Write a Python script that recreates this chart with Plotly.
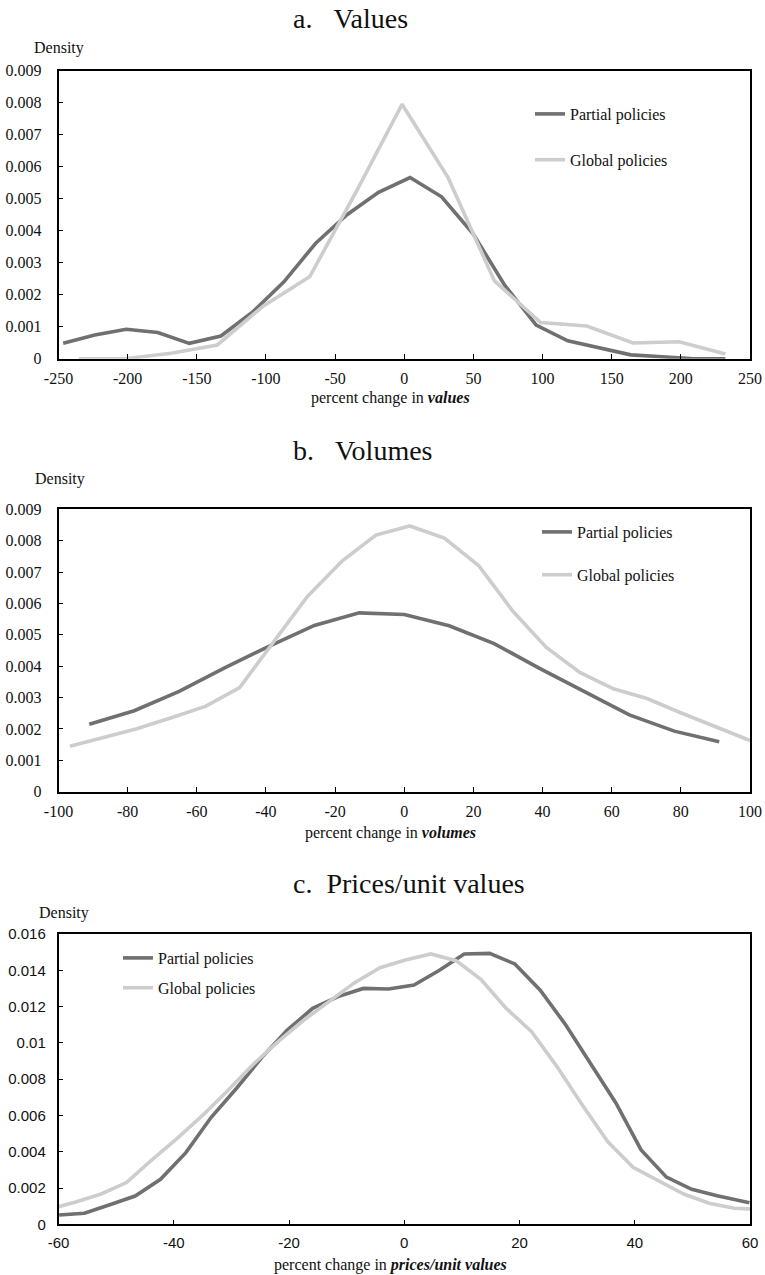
import plotly.graph_objects as go

# ---------------- data ----------------
a_partial_x = [-246.6, -223.8, -201.0, -178.2, -155.4, -132.6, -109.8, -87.0, -64.2, -41.4, -18.6,
               4.2, 27.0, 49.8, 72.6, 95.4, 118.2, 141.0, 163.8, 186.6, 209.4, 232.2]
a_partial_y = [0.00048, 0.00074, 0.00092, 0.00082, 0.00048, 0.00071, 0.00145, 0.0024, 0.0036, 0.0045, 0.0052,
               0.00566, 0.00506, 0.0039, 0.0023, 0.00105, 0.00056, 0.00033, 0.00012, 0.00006, 0.0, 0.0]
a_global_x = [-235.4, -202.0, -168.6, -135.2, -101.8, -68.4, -35.0, -1.6, 31.8, 65.2, 98.6, 132.0,
              165.4, 198.8, 232.2]
a_global_y = [0.0, 0.0, 0.00017, 0.00043, 0.00165, 0.00256, 0.0052, 0.00795, 0.00565, 0.00243, 0.00113,
              0.00102, 0.00049, 0.00053, 0.00015]

b_partial_x = [-91.1, -78.1, -65.1, -52.1, -39.0, -26.0, -13.0, 0.0, 13.0, 26.0, 39.0, 52.1, 65.1, 78.1, 91.1]
b_partial_y = [0.00215, 0.00258, 0.0032, 0.00394, 0.00464, 0.0053, 0.0057, 0.00565, 0.00529, 0.00472,
               0.00394, 0.0032, 0.00245, 0.00193, 0.00159]
b_global_x = [-96.7, -87.2, -77.6, -67.6, -57.5, -47.6, -37.8, -28.0, -17.9, -8.2, 1.6, 11.6, 21.5, 31.5,
              41.1, 50.8, 60.5, 70.2, 80.3, 90.0, 100.0]
b_global_y = [0.00145, 0.00171, 0.0020, 0.00235, 0.00272, 0.00332, 0.00475, 0.00622, 0.00736, 0.00818,
              0.00847, 0.00808, 0.00721, 0.00574, 0.0046, 0.0038, 0.00328, 0.00297, 0.0025, 0.00208, 0.00163]

c_partial_x = [-59.9, -55.5, -51.1, -46.7, -42.3, -37.9, -33.5, -29.1, -24.7, -20.3, -15.9, -11.5, -7.1,
               -2.7, 1.7, 6.1, 10.4, 14.8, 19.2, 23.6, 28.0, 32.3, 36.7, 41.1, 45.5, 49.9, 54.3, 59.9]
c_partial_y = [0.00051, 0.00061, 0.00108, 0.00156, 0.00248, 0.00395, 0.0059, 0.0075, 0.0092, 0.0107, 0.0119,
               0.01255, 0.013, 0.01297, 0.01319, 0.0140, 0.0149, 0.01493, 0.01435, 0.0129, 0.011, 0.0089,
               0.0067, 0.0041, 0.0026, 0.00193, 0.00157, 0.00119]
c_global_x = [-60.0, -57.0, -52.6, -48.2, -43.8, -39.4, -35.0, -30.6, -26.2, -21.8, -17.4, -13.0, -8.6,
              -4.2, 0.2, 4.6, 9.0, 13.3, 17.7, 22.1, 26.5, 30.9, 35.3, 39.7, 44.1, 48.5, 52.9, 57.3, 60.0]
c_global_y = [0.00097, 0.00123, 0.00167, 0.0023, 0.00355, 0.00474, 0.006, 0.00737, 0.00882, 0.0101,
              0.01126, 0.01227, 0.01332, 0.01414, 0.01457, 0.0149, 0.01453, 0.0135, 0.0119, 0.01062,
              0.00869, 0.00658, 0.00456, 0.00314, 0.00239, 0.00167, 0.00116, 0.00088, 0.00085]

series_names = ["Partial policies", "Global policies"]
panel_titles = ["a.\u00a0\u00a0\u00a0Values", "b.\u00a0\u00a0\u00a0Volumes", "c.\u00a0\u00a0Prices/unit values"]
x_titles = ["percent change in <b><i>values</i></b>",
            "percent change in <b><i>volumes</i></b>",
            "percent change in <b><i>prices/unit values</i></b>"]

a_xticks = [-250, -200, -150, -100, -50, 0, 50, 100, 150, 200, 250]
b_xticks = [-100, -80, -60, -40, -20, 0, 20, 40, 60, 80, 100]
c_xticks = [-60, -40, -20, 0, 20, 40, 60]
ab_yticks = [0, 0.001, 0.002, 0.003, 0.004, 0.005, 0.006, 0.007, 0.008, 0.009]
ab_ytext = ["0", "0.001", "0.002", "0.003", "0.004", "0.005", "0.006", "0.007", "0.008", "0.009"]
c_yticks = [0, 0.002, 0.004, 0.006, 0.008, 0.01, 0.012, 0.014, 0.016]
c_ytext = ["0", "0.002", "0.004", "0.006", "0.008", "0.01", "0.012", "0.014", "0.016"]

# ---------------- styling / layout ----------------
W, H = 765, 1275
OFF = 0  # body margin is removed by the post script below
SERIF = "Liberation Serif, Times New Roman, serif"
SANS = "Liberation Sans, Arial, sans-serif"
C_PART = "#707070"
C_GLOB = "#cdcdcd"
LW = 3.6


def px_x(p):
    return (p - OFF) / W


def px_y(p):
    return 1 - (p - OFF) / H


x_left, x_right = 58.5, 750.0
panels = [  # top px, bottom px (page coordinates)
    (70.7, 358.7),
    (509.3, 791.7),
    (934.0, 1224.3),
]

fig = go.Figure()

data = [
    (a_partial_x, a_partial_y, a_global_x, a_global_y),
    (b_partial_x, b_partial_y, b_global_x, b_global_y),
    (c_partial_x, c_partial_y, c_global_x, c_global_y),
]
legend_ids = ["legend", "legend2", "legend3"]
for i, (px_, py_, gx_, gy_) in enumerate(data):
    sfx = "" if i == 0 else str(i + 1)
    fig.add_trace(go.Scatter(x=px_, y=py_, mode="lines", name=series_names[0],
                             line=dict(color=C_PART, width=LW), xaxis="x" + sfx, yaxis="y" + sfx,
                             legend=legend_ids[i], legendgroup="p%d" % i))
    fig.add_trace(go.Scatter(x=gx_, y=gy_, mode="lines", name=series_names[1],
                             line=dict(color=C_GLOB, width=LW), xaxis="x" + sfx, yaxis="y" + sfx,
                             legend=legend_ids[i], legendgroup="g%d" % i))

xranges = [[-250, 250], [-100, 100], [-60, 60]]
xtickss = [a_xticks, b_xticks, c_xticks]
yranges = [[0, 0.009], [0, 0.009], [0, 0.016]]
ytickss = [(ab_yticks, ab_ytext), (ab_yticks, ab_ytext), (c_yticks, c_ytext)]
tickfonts = [dict(family=SERIF, size=16, color="#111"),
             dict(family=SERIF, size=16, color="#111"),
             dict(family=SANS, size=15, color="#111")]
ystandoff = [12, 12, 8]

layout = dict(
    width=W, height=H,
    margin=dict(l=0, r=0, t=0, b=0, autoexpand=False),
    paper_bgcolor="white", plot_bgcolor="white",
    font=dict(family=SERIF, size=16, color="#111"),
)

for i in range(3):
    sfx = "" if i == 0 else str(i + 1)
    top, bot = panels[i]
    layout["xaxis" + sfx] = dict(
        domain=[px_x(x_left), px_x(x_right)], range=xranges[i], anchor="y" + sfx,
        tickmode="array", tickvals=xtickss[i], ticktext=[str(v) for v in xtickss[i]],
        ticks="inside", ticklen=5, tickwidth=1.2, tickcolor="black",
        showline=True, linecolor="black", linewidth=1.5, mirror=True,
        showgrid=False, zeroline=False, tickfont=tickfonts[i], ticklabelstandoff=4,
        automargin=False, fixedrange=True,
    )
    layout["yaxis" + sfx] = dict(
        domain=[px_y(bot), px_y(top)], range=yranges[i], anchor="x" + sfx,
        tickmode="array", tickvals=ytickss[i][0], ticktext=ytickss[i][1],
        ticks="inside", ticklen=5, tickwidth=1.2, tickcolor="black",
        showline=True, linecolor="black", linewidth=1.5, mirror=True,
        showgrid=False, zeroline=False, tickfont=tickfonts[i], ticklabelstandoff=ystandoff[i],
        automargin=False, fixedrange=True,
    )

# legends (page px: left, top, group gap)
leg_pos = [(530, 97, 22), (537, 515, 19), (118, 941, 6)]
for i, (lx, ly, gap) in enumerate(leg_pos):
    layout[legend_ids[i]] = dict(
        x=px_x(lx), y=px_y(ly), xanchor="left", yanchor="top",
        bgcolor="rgba(0,0,0,0)", borderwidth=0,
        font=dict(family=SERIF, size=16, color="#111"),
        tracegroupgap=gap, traceorder="grouped",
    )

annotations = []
title_y = [18.3, 450.0, 883.0]
density_pos = [(32, 48), (33, 479), (37, 913)]
xtitle_y = [398.0, 832.7, 1265.0]
for i in range(3):
    annotations.append(dict(text=panel_titles[i], x=px_x(291), y=px_y(title_y[i]), xref="paper", yref="paper",
                            xanchor="left", yanchor="middle", showarrow=False,
                            font=dict(family=SERIF, size=28, color="#111")))
    annotations.append(dict(text="Density", x=px_x(density_pos[i][0]), y=px_y(density_pos[i][1]),
                            xref="paper", yref="paper", xanchor="left", yanchor="middle", showarrow=False,
                            font=dict(family=SERIF, size=16, color="#111")))
    annotations.append(dict(text=x_titles[i], x=px_x(390), y=px_y(xtitle_y[i]), xref="paper", yref="paper",
                            xanchor="center", yanchor="middle", showarrow=False,
                            font=dict(family=SERIF, size=16, color="#111")))
layout["annotations"] = annotations

fig.update_layout(**layout)
fig.write_html("out.html", config={"displayModeBar": False},
               post_script="document.body.style.margin='0px';document.body.style.overflow='hidden';")
